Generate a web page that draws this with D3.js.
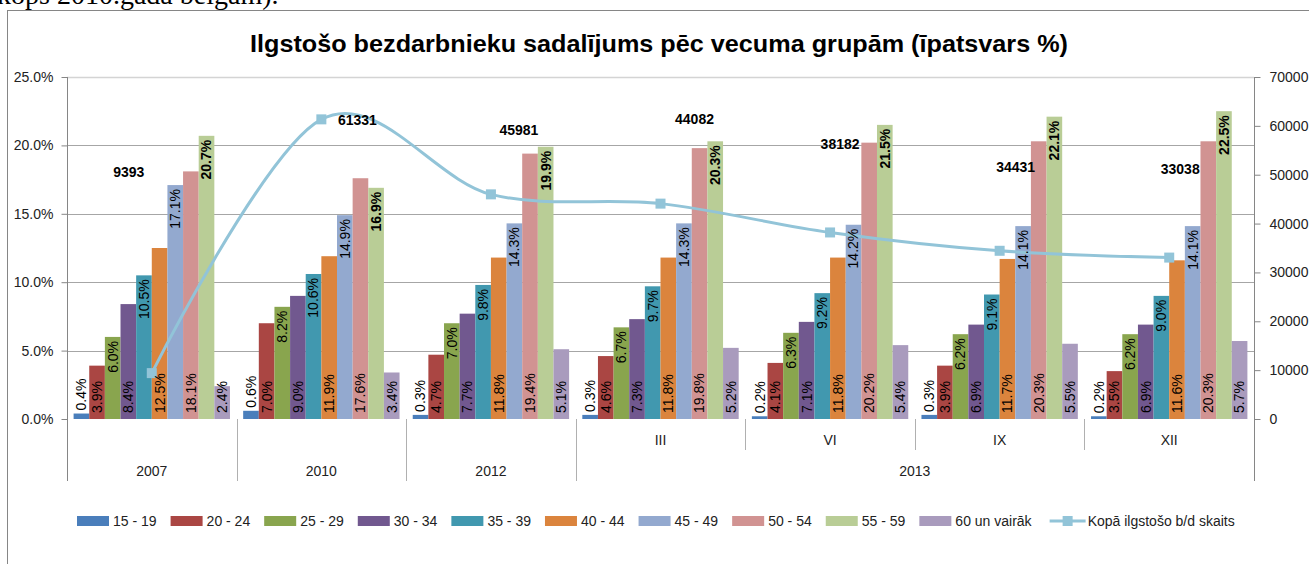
<!DOCTYPE html>
<html>
<head>
<meta charset="utf-8">
<script src="https://cdn.jsdelivr.net/npm/d3@7"></script>
<style>
  body { margin: 0; background: #fff; }
  text { font-family: "Liberation Sans", Arial, sans-serif; }
</style>
</head>
<body>
<svg width="1309" height="564"></svg>
<script>
// categories
var periods = ["2007", "2010", "2012", "III", "VI", "IX", "XII"];
var years = ["2007", "2010", "2012", "2013"];
var ageGroups = ["15 - 19", "20 - 24", "25 - 29", "30 - 34", "35 - 39", "40 - 44", "45 - 49", "50 - 54", "55 - 59", "60 un vairāk"];

// shares by age group (%), one array per period
var v2007 = [0.4, 3.9, 6.0, 8.4, 10.5, 12.5, 17.1, 18.1, 20.7, 2.4];
var v2010 = [0.6, 7.0, 8.2, 9.0, 10.6, 11.9, 14.9, 17.6, 16.9, 3.4];
var v2012 = [0.3, 4.7, 7.0, 7.7, 9.8, 11.8, 14.3, 19.4, 19.9, 5.1];
var vIII  = [0.3, 4.6, 6.7, 7.3, 9.7, 11.8, 14.3, 19.8, 20.3, 5.2];
var vVI   = [0.2, 4.1, 6.3, 7.1, 9.2, 11.8, 14.2, 20.2, 21.5, 5.4];
var vIX   = [0.3, 3.9, 6.2, 6.9, 9.1, 11.7, 14.1, 20.3, 22.1, 5.5];
var vXII  = [0.2, 3.5, 6.2, 6.9, 9.0, 11.6, 14.1, 20.3, 22.5, 5.7];

// total long-term unemployed
var totals = [9393, 61331, 45981, 44082, 38182, 34431, 33038];

// tick labels
var pctTicks = [0, 5, 10, 15, 20, 25];
var countTicks = [0, 10000, 20000, 30000, 40000, 50000, 60000, 70000];

var colors = ["#4a7ebb", "#aa4643", "#89a54e", "#71588f", "#4198af", "#db843d", "#93a9cf", "#d19392", "#b9cd96", "#a99bbd"];
var lineColor = "#92c4d8";
// where each total label sits relative to its marker (dx, dy)
var totalLabelOffset = [[-23, -201], [36, 1], [28, -64], [34, -85], [10, -88], [16, -84], [11, -88]];

var shares = [v2007, v2010, v2012, vIII, vVI, vIX, vXII];
var groupYear = ["2007", "2010", "2012", "2013", "2013", "2013", "2013"];

var svg = d3.select("svg");

var plotLeft = 67, plotRight = 1254, plotTop = 77, plotBase = 419;

var x0 = d3.scaleBand().domain(periods).range([plotLeft, plotRight]);
var gap = 6.6;
var x1 = d3.scaleBand().domain(d3.range(ageGroups.length)).range([gap, x0.bandwidth() - gap]);
var y = d3.scaleLinear().domain([0, 25]).range([plotBase, plotTop]);
var y2 = d3.scaleLinear().domain([0, 70000]).range([plotBase, plotTop]);

// text above the chart (page text cut off)
svg.append("text")
    .attr("x", -3).attr("y", 4)
    .style("font-family", "'Liberation Serif', serif")
    .style("font-size", "28px")
    .text("kops 2010.gada beigām).");

// chart frame
svg.append("rect")
    .attr("x", 7.5).attr("y", 10.5)
    .attr("width", 1400).attr("height", 700)
    .attr("fill", "#fff").attr("stroke", "#868686");

// title
svg.append("text")
    .attr("x", 250).attr("y", 52)
    .attr("textLength", 818).attr("lengthAdjust", "spacingAndGlyphs")
    .style("font-size", "24px").style("font-weight", "bold")
    .text("Ilgstošo bezdarbnieku sadalījums pēc vecuma grupām (īpatsvars %)");

// gridlines
svg.append("g").selectAll("line")
  .data(pctTicks.filter(function(d) { return d > 0; }))
  .enter().append("line")
    .attr("x1", plotLeft).attr("x2", plotRight)
    .attr("y1", function(d) { return Math.round(y(d)) + 0.5; })
    .attr("y2", function(d) { return Math.round(y(d)) + 0.5; })
    .attr("stroke", function(d) { return d === 25 ? "#d4d4d4" : "#a6a6a6"; })
    .attr("stroke-width", function(d) { return d === 25 ? 1.5 : 1; });

// left axis
var yAxis = svg.append("g")
    .attr("transform", "translate(" + (plotLeft + 0.5) + ",0)")
    .call(d3.axisLeft(y).tickValues(pctTicks).tickSize(6).tickPadding(8)
      .tickFormat(function(d) { return d.toFixed(1) + "%"; }));
yAxis.select(".domain").remove();
yAxis.selectAll("line").attr("stroke", "#868686");
yAxis.selectAll("text").style("font-size", "14px").style("font-family", "'Liberation Sans', Arial, sans-serif").attr("fill", "#222");

// right axis
var y2Axis = svg.append("g")
    .attr("transform", "translate(" + (plotRight + 0.5) + ",0)")
    .call(d3.axisRight(y2).tickValues(countTicks).tickSize(6).tickPadding(9).tickFormat(d3.format("d")));
y2Axis.select(".domain").remove();
y2Axis.selectAll("line").attr("stroke", "#868686");
y2Axis.selectAll("text").style("font-size", "14px").style("font-family", "'Liberation Sans', Arial, sans-serif").attr("fill", "#222");

// vertical axis lines (extend through category labels)
svg.append("line").attr("x1", plotLeft + 0.5).attr("x2", plotLeft + 0.5).attr("y1", plotTop).attr("y2", 481).attr("stroke", "#868686");
svg.append("line").attr("x1", plotRight + 0.5).attr("x2", plotRight + 0.5).attr("y1", plotTop).attr("y2", 481).attr("stroke", "#868686");

// category separators
svg.append("g").selectAll("line")
  .data(periods.slice(1))
  .enter().append("line")
    .attr("x1", function(d) { return Math.round(x0(d)) + 0.5; })
    .attr("x2", function(d) { return Math.round(x0(d)) + 0.5; })
    .attr("y1", plotBase)
    .attr("y2", function(d, i) { return groupYear[i] === groupYear[i + 1] ? 450 : 481; })
    .attr("stroke", "#b0b0b0");

// inner category labels (months of 2013)
svg.append("g").selectAll("text")
  .data(periods.filter(function(d, i) { return groupYear[i] !== d; }))
  .enter().append("text")
    .attr("x", function(d) { return x0(d) + x0.bandwidth() / 2; })
    .attr("y", 445)
    .attr("text-anchor", "middle")
    .style("font-size", "14px").attr("fill", "#222")
    .text(function(d) { return d; });

// year labels
svg.append("g").selectAll("text")
  .data(years)
  .enter().append("text")
    .attr("x", function(yr) {
      var idx = periods.filter(function(p, i) { return groupYear[i] === yr; });
      return (x0(idx[0]) + x0(idx[idx.length - 1]) + x0.bandwidth()) / 2;
    })
    .attr("y", 476)
    .attr("text-anchor", "middle")
    .style("font-size", "14px").attr("fill", "#222")
    .text(function(d) { return d; });

// bars
var groups = svg.append("g").selectAll("g")
  .data(periods)
  .enter().append("g")
    .attr("transform", function(d) { return "translate(" + x0(d) + ",0)"; });

groups.selectAll("rect")
  .data(function(d, i) { return shares[i]; })
  .enter().append("rect")
    .attr("x", function(d, j) { return x1(j); })
    .attr("width", x1.bandwidth())
    .attr("y", function(d) { return y(d); })
    .attr("height", function(d) { return plotBase - y(d); })
    .attr("fill", function(d, j) { return colors[j]; });

// total line, drawn over the bars
var cx = function(d, i) { return x0(periods[i]) + x0.bandwidth() / 2; };
var line = d3.line()
    .x(cx)
    .y(function(d) { return y2(d); })
    .curve(d3.curveCardinal.tension(0));

svg.append("path")
    .datum(totals)
    .attr("d", line)
    .attr("fill", "none")
    .attr("stroke", lineColor)
    .attr("stroke-width", 3);

svg.append("g").selectAll("rect")
  .data(totals)
  .enter().append("rect")
    .attr("x", function(d, i) { return cx(d, i) - 5; })
    .attr("y", function(d) { return y2(d) - 5; })
    .attr("width", 10).attr("height", 10)
    .attr("fill", lineColor);

// bar value labels, vertical
var labelGroups = svg.append("g").selectAll("g")
  .data(periods)
  .enter().append("g")
    .attr("transform", function(d) { return "translate(" + x0(d) + ",0)"; });

labelGroups.selectAll("text")
  .data(function(d, i) { return shares[i]; })
  .enter().append("text")
    .attr("transform", function(d, j) {
      var bx = x1(j) + x1.bandwidth() / 2, py;
      if (j === 0) py = y(d) - 3;               // outside end
      else if (j % 2 === 1) py = plotBase - 6;  // inside base
      else py = y(d) + 4;                       // inside end
      return "translate(" + bx + "," + py + ") rotate(-90)";
    })
    .attr("text-anchor", function(d, j) { return (j === 0 || j % 2 === 1) ? "start" : "end"; })
    .attr("dy", "0.35em")
    .style("font-size", "14px")
    .style("font-weight", function(d, j) { return j === 8 ? "bold" : "normal"; })
    .attr("fill", "#000")
    .text(function(d) { return d.toFixed(1) + "%"; });

svg.append("g").selectAll("text")
  .data(totals)
  .enter().append("text")
    .attr("x", function(d, i) { return cx(d, i) + totalLabelOffset[i][0]; })
    .attr("y", function(d, i) { return y2(d) + totalLabelOffset[i][1]; })
    .attr("dy", "0.35em")
    .attr("text-anchor", "middle")
    .style("font-size", "14px").style("font-weight", "bold")
    .text(function(d) { return d; });

// legend
var legend = svg.append("g").attr("transform", "translate(77,521)");
var lx = 0;
ageGroups.forEach(function(name, j) {
  legend.append("rect").attr("x", lx).attr("y", -5).attr("width", 32).attr("height", 10).attr("fill", colors[j]);
  var t = legend.append("text").attr("x", lx + 36).attr("y", 0).attr("dy", "0.35em")
      .style("font-size", "14px").attr("fill", "#222").text(name);
  lx += 36 + t.node().getComputedTextLength() + 14;
});
legend.append("line").attr("x1", lx + 4).attr("x2", lx + 40).attr("y1", 0).attr("y2", 0)
    .attr("stroke", lineColor).attr("stroke-width", 3);
legend.append("rect").attr("x", lx + 17).attr("y", -5).attr("width", 10).attr("height", 10).attr("fill", lineColor);
legend.append("text").attr("x", lx + 42).attr("y", 0).attr("dy", "0.35em")
    .style("font-size", "14px").attr("fill", "#222").text("Kopā ilgstošo b/d skaits");
</script>
</body>
</html>
